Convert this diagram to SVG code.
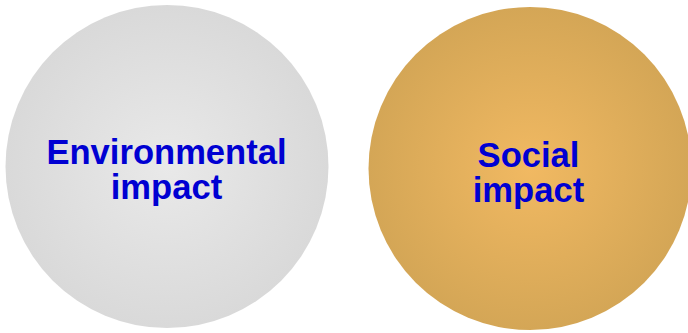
<svg xmlns="http://www.w3.org/2000/svg" width="688" height="333" viewBox="0 0 688 333">
  <style>
    .lbl { font-family: "Liberation Sans", Arial, sans-serif; font-weight: bold; font-size: 34.6px; fill: #0000d2; text-anchor: middle; }
  </style>
  <defs>
    <radialGradient id="gGray" cx="50%" cy="50%" r="50%">
      <stop offset="0" stop-color="#e9e9e9"/>
      <stop offset="1" stop-color="#d9d9d9"/>
    </radialGradient>
    <radialGradient id="gGold" cx="50%" cy="50%" r="50%">
      <stop offset="0" stop-color="#f1b962"/>
      <stop offset="1" stop-color="#d4a656"/>
    </radialGradient>
  </defs>
  <rect width="688" height="333" fill="#ffffff"/>
  <g id="environmental">
    <circle cx="167" cy="166.5" r="161.5" fill="url(#gGray)"/>
    <text class="lbl" x="166.5" y="164">Environmental</text>
    <text class="lbl" x="166.5" y="198.5">impact</text>
  </g>
  <g id="social">
    <circle cx="530" cy="168.5" r="161.5" fill="url(#gGold)"/>
    <text class="lbl" x="528.5" y="166.7">Social</text>
    <text class="lbl" x="528.5" y="201.5">impact</text>
  </g>
  <g id="connectors"/>
</svg>
